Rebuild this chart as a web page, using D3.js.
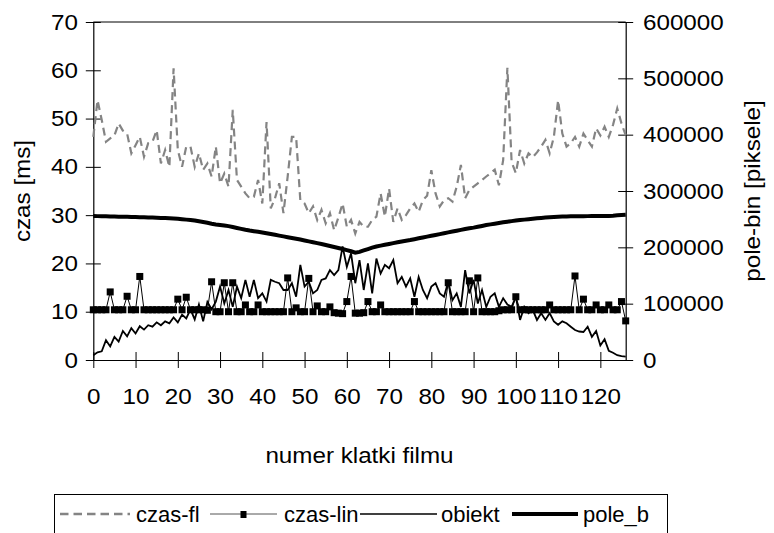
<!DOCTYPE html>
<html>
<head>
<meta charset="utf-8">
<script src="https://cdn.jsdelivr.net/npm/d3@7"></script>
<style>
  body { margin: 0; background: #fff; }
  text { font-family: "Liberation Sans", Arial, sans-serif; }
</style>
</head>
<body>
<script>
// frame numbers 0..126
const frames = d3.range(0, 127);

// czas-fl [ms]
const czasFl = [
  46.2, 53.8, 49.7, 45.2, 45.9, 46.5, 49.0, 47.5, 46.9, 42.8,
  44.5, 46.2, 42.1, 44.9, 45.2, 47.6, 40.7, 43.5, 40.0, 60.4,
  43.5, 40.0, 44.2, 44.2, 40.0, 42.8, 39.4, 40.7, 38.0, 44.2,
  36.6, 38.6, 35.9, 51.8, 37.3, 35.9, 34.5, 33.5, 33.8, 37.3,
  32.4, 49.3, 31.4, 33.5, 36.6, 30.4, 38.0, 46.2, 46.2, 33.0,
  32.4, 30.4, 31.8, 29.0, 31.1, 28.3, 30.4, 26.9, 29.5, 32.4,
  27.6, 29.0, 26.2, 28.6, 27.6, 27.6, 29.0, 29.7, 34.5, 29.7,
  35.5, 28.6, 31.4, 29.0, 30.0, 31.4, 32.4, 30.7, 33.1, 34.0,
  39.3, 34.5, 31.8, 33.1, 33.5, 32.8, 35.9, 40.4, 33.5, 35.2,
  35.9, 36.6, 37.3, 38.0, 38.7, 39.4, 36.2, 41.4, 60.5, 41.0,
  38.7, 43.5, 40.7, 42.8, 42.0, 43.0, 44.2, 45.6, 42.8, 46.2,
  53.8, 46.9, 44.2, 44.9, 46.2, 44.2, 46.9, 45.5, 44.2, 48.0,
  46.5, 48.3, 46.2, 48.7, 52.1, 49.0, 46.5
];

// czas-lin [ms]
const czasLin = [
  10.4, 10.4, 10.4, 10.4, 14.1, 10.4, 10.4, 10.4, 13.2, 10.4,
  10.4, 17.3, 10.4, 10.4, 10.4, 10.4, 10.4, 10.4, 10.4, 10.4,
  12.6, 10.4, 13.0, 10.4, 10.4, 10.4, 10.4, 10.3, 16.2, 10.0,
  10.0, 16.0, 10.0, 16.0, 10.0, 10.0, 11.4, 10.0, 10.0, 11.4,
  10.0, 10.0, 10.0, 10.0, 10.0, 10.0, 17.0, 10.0, 10.8, 10.0,
  10.0, 16.9, 10.0, 11.2, 10.0, 10.0, 11.0, 9.8, 9.7, 9.6,
  12.1, 17.3, 9.7, 9.7, 9.8, 12.1, 10.0, 10.0, 11.4, 10.0,
  10.0, 10.0, 10.0, 10.0, 10.0, 10.0, 12.1, 10.0, 10.0, 10.0,
  10.0, 10.0, 10.0, 10.0, 16.0, 10.0, 10.0, 10.0, 10.0, 16.4,
  10.0, 17.0, 10.0, 10.0, 10.0, 10.0, 10.2, 10.4, 10.4, 10.4,
  13.1, 10.4, 10.4, 10.4, 10.4, 10.4, 10.4, 10.4, 11.4, 10.4,
  10.4, 10.4, 10.4, 10.4, 17.4, 10.4, 12.6, 10.4, 10.4, 11.4,
  10.4, 10.4, 11.4, 10.4, 10.4, 12.1, 8.1
];

// obiekt [ms]
const obiekt = [
  1.0, 1.6, 1.8, 4.1, 2.8, 4.8, 3.8, 6.0, 4.9, 6.6,
  5.5, 7.0, 6.3, 7.2, 6.9, 7.8, 7.2, 8.0, 7.6, 8.8,
  7.8, 9.4, 8.6, 10.5, 8.4, 11.5, 8.0, 12.0, 10.5, 12.1,
  15.2, 11.7, 14.5, 11.0, 15.2, 12.8, 16.6, 13.1, 16.6, 12.8,
  13.8, 12.1, 16.6, 16.2, 15.9, 14.5, 14.5, 15.9, 13.1, 19.7,
  15.2, 16.2, 13.8, 14.5, 16.6, 16.9, 18.6, 17.6, 18.6, 23.5,
  19.3, 22.1, 15.9, 20.7, 14.5, 20.0, 13.8, 21.0, 17.9, 19.7,
  19.0, 20.7, 15.9, 17.2, 15.2, 16.9, 13.1, 17.2, 14.5, 12.8,
  15.2, 15.9, 13.8, 13.1, 16.2, 12.4, 13.8, 11.0, 18.6, 13.8,
  16.6, 11.7, 14.5, 11.0, 13.1, 13.8, 11.0, 12.8, 11.5, 11.0,
  13.1, 8.3, 11.0, 9.7, 10.4, 8.3, 9.7, 8.3, 9.7, 8.0,
  7.3, 8.0, 7.6, 6.9, 6.2, 5.9, 5.8, 6.9, 4.8, 6.0,
  3.0, 4.3, 1.9, 1.5, 1.0, 0.8, 0.7
];

// pole_b [piksele] (right axis)
const poleB = [
  255500, 255400, 255200, 255000, 254800, 254600, 254400, 254300, 254100, 253900,
  253700, 253500, 253200, 253000, 252800, 252500, 252200, 251900, 251600, 251200,
  250600, 249900, 249200, 248500, 247500, 246300, 245000, 243600, 242000, 240700,
  239800, 238900, 237600, 236000, 234400, 232800, 231200, 229800, 228600, 227500,
  226400, 225000, 223600, 222200, 220800, 219400, 218000, 216600, 215200, 213800,
  212200, 210600, 209000, 207500, 206000, 204200, 202400, 200600, 198800, 197000,
  195000, 193000, 190500, 192000, 194500, 197000, 199500, 201500, 203000, 204500,
  206000, 207500, 209000, 210500, 211800, 213000, 214500, 216000, 217500, 219000,
  220500, 222000, 223500, 225000, 226500, 228000, 229500, 231000, 232500, 233800,
  235000, 236500, 238000, 239500, 240800, 242000, 243200, 244400, 245500, 246500,
  247500, 248400, 249200, 250000, 250800, 251500, 252200, 252800, 253400, 253900,
  254300, 254600, 254800, 255000, 255100, 255200, 255300, 255400, 255500, 255500,
  255600, 255700, 255800, 256200, 256800, 257500, 258000
];

const xTicks = d3.range(0, 121, 10);
const leftTicks = d3.range(0, 71, 10);
const rightTicks = d3.range(0, 600001, 100000);

const W = 774, H = 533;
const plot = {left: 93.3, right: 625.7, top: 22, bottom: 360};
const fontSize = 22;
const stretch = 1.1;   // the original lettering is a little wider than Arial

const svg = d3.select("body").append("svg")
    .attr("width", W)
    .attr("height", H);

const x = d3.scaleLinear().domain([0, 126]).range([plot.left, plot.right]);
const y = d3.scaleLinear().domain([0, 70]).range([plot.bottom, plot.top]);
const yR = d3.scaleLinear().domain([0, 600000]).range([plot.bottom, plot.top]);

// widen a text horizontally around its own x anchor
function widen(sel) {
    sel.each(function () {
        const t = d3.select(this);
        const ax = +t.attr("x") || 0;
        const tr = t.attr("transform") || "";
        t.attr("transform", tr + " translate(" + ax + ",0) scale(" + stretch + ",1) translate(" + (-ax) + ",0)");
    });
}

// frame
svg.append("line")
    .attr("x1", plot.left).attr("x2", plot.right)
    .attr("y1", plot.top).attr("y2", plot.top)
    .attr("stroke", "#000").attr("stroke-width", 1);

// ****************** axes ***************************
function styleAxis(g) {
    g.attr("font-size", fontSize)
        .attr("font-family", '"Liberation Sans", Arial, sans-serif');
    g.selectAll("path.domain").attr("stroke", "#000").attr("stroke-width", 1.2);
    g.selectAll(".tick line").attr("stroke", "#000").attr("stroke-width", 1);
    g.selectAll(".tick text").attr("fill", "#000").call(widen);
}

const gx = svg.append("g")
    .attr("transform", "translate(0," + plot.bottom + ")")
    .call(d3.axisBottom(x).tickValues(xTicks).tickSize(8).tickSizeOuter(0).tickPadding(20));
gx.call(styleAxis);
gx.selectAll(".tick line").attr("y1", -8);

const gl = svg.append("g")
    .attr("transform", "translate(" + plot.left + ",0)")
    .call(d3.axisLeft(y).tickValues(leftTicks).tickSize(7.5).tickSizeOuter(0).tickPadding(7.8));
gl.call(styleAxis);
gl.selectAll(".tick line").attr("x1", 7.5);

const gr = svg.append("g")
    .attr("transform", "translate(" + plot.right + ",0)")
    .call(d3.axisRight(yR).tickValues(rightTicks).tickSize(7.5).tickSizeOuter(0).tickPadding(9.8)
        .tickFormat(d3.format("d")));
gr.call(styleAxis);
gr.selectAll(".tick line").attr("x1", -7.5);

// axis titles
svg.append("text")
    .attr("transform", "translate(30," + ((plot.top + plot.bottom) / 2) + ") rotate(-90)")
    .attr("text-anchor", "middle")
    .style("font-size", fontSize + "px")
    .text("czas [ms]")
    .call(widen);

svg.append("text")
    .attr("transform", "translate(760," + ((plot.top + plot.bottom) / 2) + ") rotate(-90)")
    .attr("text-anchor", "middle")
    .style("font-size", fontSize + "px")
    .text("pole-bin [piksele]")
    .call(widen);

svg.append("text")
    .attr("x", (plot.left + plot.right) / 2)
    .attr("y", 463)
    .attr("text-anchor", "middle")
    .style("font-size", fontSize + "px")
    .text("numer klatki filmu")
    .call(widen);

// ****************** series ***************************
const lineL = d3.line().x((d, i) => x(frames[i])).y(d => y(d));
const lineR = d3.line().x((d, i) => x(frames[i])).y(d => yR(d));

svg.append("path")
    .datum(czasFl)
    .attr("d", lineL)
    .attr("fill", "none")
    .attr("stroke", "#848484")
    .attr("stroke-width", 2.2)
    .attr("stroke-dasharray", "8,5");

svg.append("path")
    .datum(czasLin)
    .attr("d", lineL)
    .attr("fill", "none")
    .attr("stroke", "#000")
    .attr("stroke-width", 1);

svg.selectAll("rect.marker")
    .data(czasLin)
    .enter().append("rect")
    .attr("class", "marker")
    .attr("x", (d, i) => x(frames[i]) - 3.5)
    .attr("y", d => y(d) - 3.5)
    .attr("width", 7)
    .attr("height", 7)
    .attr("fill", "#000");

svg.append("path")
    .datum(obiekt)
    .attr("d", lineL)
    .attr("fill", "none")
    .attr("stroke", "#000")
    .attr("stroke-width", 1.8);

svg.append("path")
    .datum(poleB)
    .attr("d", lineR)
    .attr("fill", "none")
    .attr("stroke", "#000")
    .attr("stroke-width", 4);

// ****************** legend ***************************
const legend = svg.append("g");
legend.append("rect")
    .attr("x", 54.5).attr("y", 494.5)
    .attr("width", 613).attr("height", 60)
    .attr("fill", "none").attr("stroke", "#000").attr("stroke-width", 1);

const legY = 514;
const legendItems = [
    {name: "czas-fl", x1: 60, x2: 130, tx: 136, stroke: "#848484", w: 2.5, dash: "8.5,5", marker: false},
    {name: "czas-lin", x1: 210, x2: 277, tx: 284, stroke: "#555", w: 1, dash: null, marker: true},
    {name: "obiekt", x1: 360, x2: 437, tx: 441, stroke: "#000", w: 1.5, dash: null, marker: false},
    {name: "pole_b", x1: 512, x2: 578, tx: 583, stroke: "#000", w: 4, dash: null, marker: false}
];

legendItems.forEach(function (item) {
    legend.append("line")
        .attr("x1", item.x1).attr("x2", item.x2)
        .attr("y1", legY).attr("y2", legY)
        .attr("stroke", item.stroke)
        .attr("stroke-width", item.w)
        .attr("stroke-dasharray", item.dash);
    if (item.marker) {
        legend.append("rect")
            .attr("x", (item.x1 + item.x2) / 2 - 3)
            .attr("y", legY - 3)
            .attr("width", 6).attr("height", 7)
            .attr("fill", "#000");
    }
    legend.append("text")
        .attr("x", item.tx)
        .attr("y", legY + 7.5)
        .style("font-size", fontSize + "px")
        .text(item.name);
});
</script>
</body>
</html>
